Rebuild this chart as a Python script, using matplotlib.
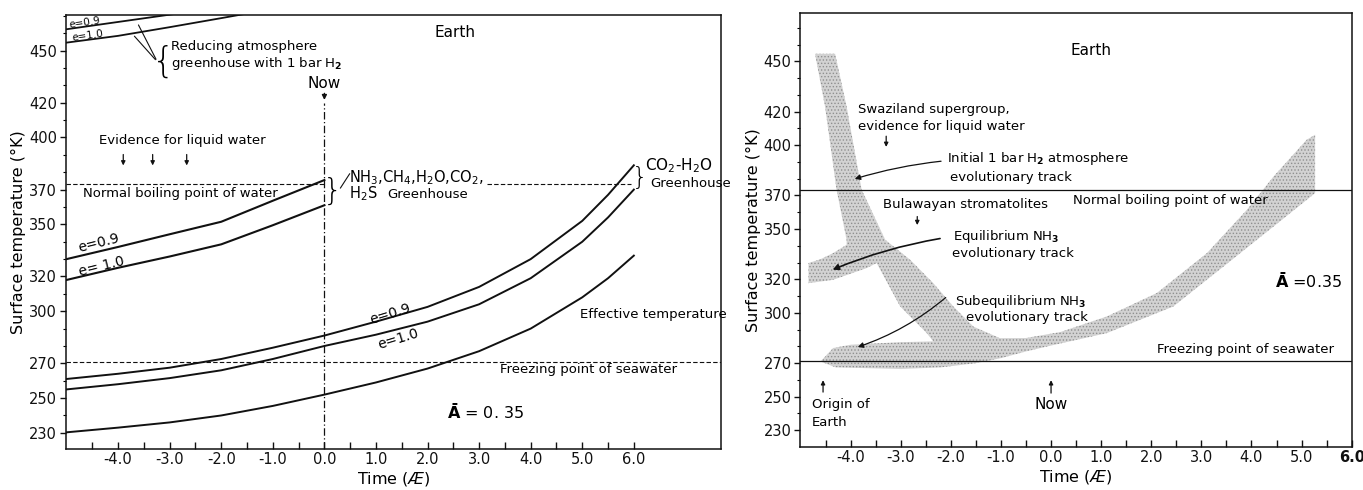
import matplotlib.pyplot as plt
import numpy as np

plt.rcParams['font.family'] = ['DejaVu Sans']
plt.rcParams['hatch.linewidth'] = 0.6

# ---- left panel data (time in Æ, temperature in K) ----
x_lower = [-5, -4, -3, -2, -1, 0, 1, 2, 3, 4, 5, 5.5, 6]
t_effective = [230.3, 233, 236, 240, 245.5, 252, 259, 267, 277, 290, 308, 319, 332]
t_co2_e09 = [261, 264, 267.5, 272.5, 279, 286, 294, 302.5, 314, 330, 352, 367, 384]
t_co2_e10 = [255, 258, 261.5, 266, 272.5, 280, 286.5, 294, 304, 319, 340, 354, 370]

x_nh3 = [-5, -4, -3, -2, -1, 0]
t_nh3_e09 = [330, 337, 344.3, 351.5, 363.6, 375.5]
t_nh3_e10 = [318, 325, 331.5, 338.5, 349.5, 361]

x_h2 = [-5, -4, -3, -2, -1]
t_h2_e09 = [462.3, 466.5, 470.7, 475, 479]
t_h2_e10 = [454.6, 458.5, 463.5, 468.7, 474]

evidence_x = [-3.9, -3.33, -2.67]

boiling_k = 373
freezing_k = 271

yticks = [230, 250, 270, 300, 320, 350, 370, 400, 420, 450]
xticks = [-4, -3, -2, -1, 0, 1, 2, 3, 4, 5, 6]

# ---- right panel: outline of the shaded evolutionary tracks ----
# H2 track, right edge going down, then the NH3 band upper edge
h2_right_x = [-4.71, -4.31, -4.08, -3.78, -3.31, -2.81, -2.35, -1.95, -1.55, -1.02, -0.5, 0.18]
h2_right_y = [454.5, 454.5, 423, 373.4, 343.6, 331.6, 317.7, 303.8, 291.8, 284.9, 285, 288.5]
band_top_x = [1.11, 2.11, 3.11, 3.91, 4.44, 5.1, 5.27]
band_top_y = [297.8, 311.8, 335.6, 361.5, 381.3, 403.2, 406.2]
band_bot_x = [5.27, 4.44, 3.44, 2.44, 1.11, 0, -0.5, -1.0, -1.5, -2.2, -3.0, -4.3, -4.6]
band_bot_y = [371.4, 351.5, 327.6, 303.8, 287.9, 280.5, 277, 273, 270, 267.5, 266.5, 267.5, 271]
# subequilibrium arm top edge, then left edge of the H2 track
arm_top_x = [-4.35, -4.0, -3.0, -2.35, -2.48, -3.01, -3.48]
arm_top_y = [279, 281, 282.5, 283, 287.9, 303.8, 329.7]
# equilibrium NH3 branch
branch_x = [-3.68, -4.35, -4.84, -4.84, -4.6, -4.35, -4.08]
branch_y = [326.7, 319.7, 317.7, 329.7, 332, 335.6, 340.6]
h2_left_x = [-4.08, -4.28, -4.51]
h2_left_y = [343.6, 373.4, 423]

W, H = 1363, 490
fig = plt.figure(figsize=(W / 100, H / 100), dpi=100)
ax1 = fig.add_axes([65.5 / W, 41 / H, 655.5 / W, 434 / H])
ax2 = fig.add_axes([800 / W, 43 / H, 551.7 / W, 434.3 / H])

lc = '#111111'


def style_axes(ax, xlim, ylim):
    ax.set_xlim(*xlim)
    ax.set_ylim(*ylim)
    ax.set_yticks(yticks)
    ax.set_yticks([v for v in range(230, 471, 10) if v not in yticks], minor=True)
    ax.set_xticks(xticks)
    ax.set_xticklabels(['%.1f' % v for v in xticks])
    ax.set_xticks([v + 0.5 for v in range(-5, 6)], minor=True)
    ax.tick_params(axis='x', which='both', direction='in', length=5, width=1,
                   labelsize=10.5, pad=2, colors=lc)
    ax.tick_params(axis='y', which='major', direction='out', length=4, width=1,
                   labelsize=10.5, pad=2, colors=lc)
    ax.tick_params(axis='y', which='minor', direction='out', length=2, width=0.8)
    for s in ax.spines.values():
        s.set_linewidth(1.1)
        s.set_color(lc)
    ax.set_ylabel('Surface temperature (°K)', fontsize=11.5, labelpad=2)
    ax.set_xlabel(r'Time ($\mathit{Æ}$)', fontsize=11.5, labelpad=2)


# ================= left panel =================
style_axes(ax1, (-5.02, 7.69), (220.7, 470.5))

for t in (t_effective, t_co2_e09, t_co2_e10):
    ax1.plot(x_lower, t, color=lc, lw=1.4)
for t in (t_nh3_e09, t_nh3_e10):
    ax1.plot(x_nh3, t, color=lc, lw=1.5)
for t in (t_h2_e09, t_h2_e10):
    ax1.plot(x_h2, t, color=lc, lw=1.3)

ax1.plot([-5.02, 0], [boiling_k, boiling_k], color=lc, lw=0.8, ls=(0, (4, 2)))
ax1.plot([3.15, 5.95], [boiling_k, boiling_k], color=lc, lw=0.8, ls=(0, (4, 2)))
ax1.axhline(freezing_k, color=lc, lw=0.8, ls=(0, (4, 2)))
ax1.plot([0, 0], [220.7, 420], color=lc, lw=0.9, ls=(0, (6, 2, 1, 2)))
ax1.annotate('', xy=(0, 420), xytext=(0, 427),
             arrowprops=dict(arrowstyle='-|>', color=lc, lw=1, mutation_scale=7))
ax1.text(0, 430.8, 'Now', ha='center', va='center', fontsize=11)

ax1.text(2.54, 460.2, 'Earth', ha='center', va='center', fontsize=11)
ax1.text(-2.98, 452.1, 'Reducing atmosphere', fontsize=9.5, va='center')
ax1.text(-2.98, 442.6, r'greenhouse with 1 bar H$_\mathbf{2}$', fontsize=9.5, va='center')
ax1.text(-3.12, 443.5, '{', fontsize=26, ha='center', va='center', fontweight='light')
ax1.annotate('', xy=(-3.63, 466.2), xytext=(-3.24, 443.6),
             arrowprops=dict(arrowstyle='-', color=lc, lw=0.8))
ax1.annotate('', xy=(-3.72, 459.5), xytext=(-3.24, 443.6),
             arrowprops=dict(arrowstyle='-', color=lc, lw=0.8))
ax1.text(-4.96, 466.2, 'e=0.9', fontsize=7.5, va='center', rotation=8)
ax1.text(-4.9, 458.6, 'e=1.0', fontsize=7.5, va='center', rotation=8)

ax1.text(-4.38, 398.1, 'Evidence for liquid water', fontsize=9.5, va='center')
for ex in evidence_x:
    ax1.annotate('', xy=(ex, 382.3), xytext=(ex, 391.8),
                 arrowprops=dict(arrowstyle='-|>', color=lc, lw=0.9, mutation_scale=6))
ax1.text(-4.69, 367.6, 'Normal boiling point of water', fontsize=9.5, va='center')

ax1.text(0.16, 369.3, '}', fontsize=22, ha='center', va='center', fontweight='light')
ax1.annotate('', xy=(0.52, 380.5), xytext=(0.28, 369.5),
             arrowprops=dict(arrowstyle='-', color=lc, lw=0.8))
ax1.text(0.47, 377.0, r'NH$_3$,CH$_4$,H$_2$O,CO$_2$,', fontsize=10.5, va='center')
ax1.text(0.47, 367.8, r'H$_2$S', fontsize=10.5, va='center')
ax1.text(1.22, 367.3, 'Greenhouse', fontsize=9.5, va='center')
ax1.text(6.12, 376.5, '}', fontsize=18, ha='center', va='center', fontweight='light')
ax1.text(6.22, 383.6, r'CO$_2$-H$_2$O', fontsize=11, va='center')
ax1.text(6.32, 373.6, 'Greenhouse', fontsize=9.5, va='center')

ax1.text(-4.8, 339.2, 'e=0.9', fontsize=10, va='center', rotation=14)
ax1.text(-4.8, 325.6, 'e= 1.0', fontsize=10, va='center', rotation=14)
ax1.text(0.84, 298.6, 'e=0.9', fontsize=10, va='center', rotation=17)
ax1.text(1.0, 284.0, 'e=1.0', fontsize=10, va='center', rotation=17)
ax1.text(4.96, 298.4, 'Effective temperature', fontsize=9.5, va='center')
ax1.text(3.41, 266.2, 'Freezing point of seawater', fontsize=9.5, va='center')
ax1.text(2.38, 242.0, r'$\mathbf{\bar{A}}$ = 0. 35', fontsize=11.5, va='center')

# ================= right panel =================
style_axes(ax2, (-5.01, 6.0), (220, 479))
ax2.get_xticklabels()[-1].set_fontweight('bold')

outline_x = h2_right_x + band_top_x + band_bot_x + arm_top_x + branch_x + h2_left_x
outline_y = h2_right_y + band_top_y + band_bot_y + arm_top_y + branch_y + h2_left_y
ax2.fill(outline_x, outline_y, facecolor='#d2d2d2', edgecolor='#8f8f8f', lw=0,
         hatch='.....', zorder=1)

ax2.axhline(boiling_k, color=lc, lw=0.9, zorder=2)
ax2.axhline(freezing_k, color=lc, lw=0.9, zorder=2)

ax2.text(0.8, 456.3, 'Earth', ha='center', va='center', fontsize=11)
ax2.text(-3.85, 421.1, 'Swaziland supergroup,', fontsize=9.5, va='center')
ax2.text(-3.85, 411.4, 'evidence for liquid water', fontsize=9.5, va='center')
ax2.annotate('', xy=(-3.29, 397.3), xytext=(-3.29, 407.0),
             arrowprops=dict(arrowstyle='-|>', color=lc, lw=0.9, mutation_scale=6))
ax2.text(-2.08, 391.9, r'Initial 1 bar H$_\mathbf{2}$ atmosphere', fontsize=9.5, va='center')
ax2.text(-2.02, 381.0, 'evolutionary track', fontsize=9.5, va='center')
ax2.annotate('', xy=(-3.97, 379.4), xytext=(-2.14, 390.6),
             arrowprops=dict(arrowstyle='-|>', color=lc, lw=0.9, mutation_scale=8,
                             connectionstyle='arc3,rad=0.05'))
ax2.text(0.44, 366.9, 'Normal boiling point of water', fontsize=9.5, va='center')
ax2.text(-3.35, 364.5, 'Bulawayan stromatolites', fontsize=9.5, va='center')
ax2.annotate('', xy=(-2.67, 350.7), xytext=(-2.67, 359.1),
             arrowprops=dict(arrowstyle='-|>', color=lc, lw=0.9, mutation_scale=6))
ax2.text(-1.96, 345.4, r'Equilibrium NH$_\mathbf{3}$', fontsize=9.5, va='center')
ax2.text(-1.98, 335.2, 'evolutionary track', fontsize=9.5, va='center')
ax2.annotate('', xy=(-4.41, 325.1), xytext=(-2.16, 344.6),
             arrowprops=dict(arrowstyle='-|>', color=lc, lw=1.2, mutation_scale=9,
                             connectionstyle='arc3,rad=0.06'))
ax2.text(-1.92, 306.6, r'Subequilibrium NH$_\mathbf{3}$', fontsize=9.5, va='center')
ax2.text(-1.7, 297.1, 'evolutionary track', fontsize=9.5, va='center')
ax2.annotate('', xy=(-3.91, 279.1), xytext=(-2.06, 310.2),
             arrowprops=dict(arrowstyle='-|>', color=lc, lw=0.9, mutation_scale=8,
                             connectionstyle='arc3,rad=-0.1'))
ax2.text(2.12, 277.9, 'Freezing point of seawater', fontsize=9.5, va='center')
ax2.text(4.47, 319.1, r'$\mathbf{\bar{A}}$ =0.35', fontsize=11.5, va='center')

ax2.annotate('', xy=(-4.55, 261.5), xytext=(-4.55, 251.1),
             arrowprops=dict(arrowstyle='-|>', color=lc, lw=0.9, mutation_scale=6))
ax2.text(-4.77, 245.2, 'Origin of', fontsize=9.5, va='center')
ax2.text(-4.77, 234.8, 'Earth', fontsize=9.5, va='center')
ax2.annotate('', xy=(0, 261.5), xytext=(0, 250.5),
             arrowprops=dict(arrowstyle='-|>', color=lc, lw=0.9, mutation_scale=6))
ax2.text(0, 245.5, 'Now', ha='center', va='center', fontsize=11)

fig.savefig('out.png', dpi=100)
